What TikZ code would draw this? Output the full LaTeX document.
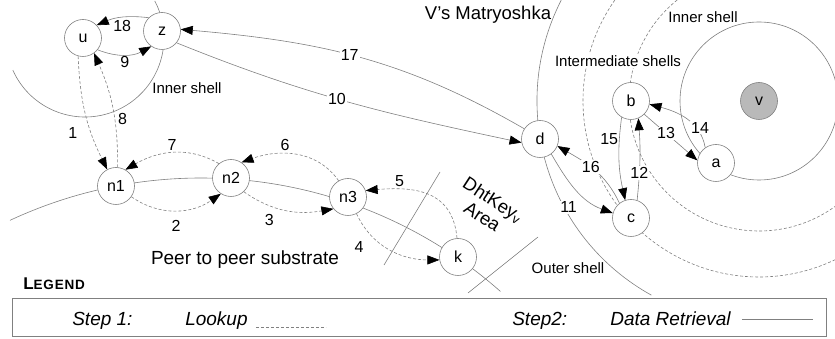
\documentclass[tikz,border=0pt]{standalone}
\usepackage{fontspec}
\setmainfont{Liberation Sans}
\usetikzlibrary{arrows.meta}

\begin{document}
\begin{tikzpicture}[x=1pt,y=1pt,line width=.6pt,
    >={Triangle[length=12pt,width=9pt,color=black]},
    peer/.style={circle,draw=gray,fill=white,minimum size=37pt,inner sep=0pt,
        font=\fontsize{16}{18}\selectfont},
    shell/.style={draw=gray},
    dshell/.style={draw=gray,dash pattern=on 3pt off 2pt},
    lookup/.style={->,draw=gray,dash pattern=on 3pt off 2pt},
    fetch/.style={->,draw=gray},
    num/.style={font=\fontsize{16}{18}\selectfont,inner sep=1pt},
    numcut/.style={num,fill=white},
    bigtext/.style={font=\fontsize{18.5}{20}\selectfont},
    smalltext/.style={font=\fontsize{15}{17}\selectfont},
    legtext/.style={font=\itshape\fontsize{19}{21}\selectfont,inner sep=0pt,anchor=base west}]

    \useasboundingbox (0,0) rectangle (835,339);

    % the shells
    \draw[shell] (85,301) ++(204:79) arc[start angle=204,end angle=388,radius=79pt];
    \draw[shell] (201,-291) ++(115:452) arc[start angle=115,end angle=48.5,radius=452pt];
    \draw[shell] (759,238) ++(153:222) arc[start angle=153,end angle=241,radius=222pt];
    \draw[dshell] (759,238) ++(145:176) arc[start angle=145,end angle=296,radius=176pt];
    \draw[dshell] (759,238) ++(129:130) arc[start angle=129,end angle=306,radius=130pt];
    \draw[shell] (759,238) circle[radius=79pt];
    \draw[shell] (440,167) -- (384,74);
    \draw[shell] (538,102) -- (468,46);

    % the peers
    \node[peer] (u) at (83,301) {u};
    \node[peer] (z) at (162,308) {z};
    \node[peer] (n1) at (116,153) {n1};
    \node[peer] (n2) at (231,161) {n2};
    \node[peer] (n3) at (348,142) {n3};
    \node[peer] (k) at (458,82) {k};
    \node[peer] (d) at (540,200) {d};
    \node[peer] (b) at (631,238) {b};
    \node[peer] (a) at (716,176) {a};
    \node[peer] (c) at (631,121) {c};
    \node[peer,fill=gray!55] (v) at (759,238) {v};

    % step 1: lookup
    \draw[lookup] (u.255) to[bend right=12] node[num,left=13pt,pos=.68]{1} (n1.118);
    \draw[lookup] (n1.85) to[bend right=12] node[num,right=2pt,pos=.4]{8} (u.306);
    \draw[lookup] (n1.-35) to[out=-35,in=215] node[num,below=9pt]{2} (n2.237);
    \draw[lookup] (n2.-47) to[out=-35,in=190] node[num,below=7pt,pos=.3]{3} (n3.219);
    \draw[lookup] (n3.-63) to[out=-65,in=180] node[num,left=21pt,pos=.45]{4} (k.189);
    \draw[lookup] (k.93) to[out=95,in=5,looseness=1.2] node[num,above=1pt,pos=.75]{5} (n3.20);
    \draw[lookup] (n3.120) to[out=125,in=20] node[num,above=2pt,pos=.6]{6} (n2.56);
    \draw[lookup] (n2.130) to[out=150,in=30] node[num,above=1pt]{7} (n1.60);

    % step 2: data retrieval
    \draw[fetch] (u.-39) to[bend right=25] node[num,below]{9} (z.235);
    \draw[fetch] (z.-39) to[out=-22,in=168] node[numcut,pos=.47]{10} (d.191);
    \draw[fetch] (d.-53) to[out=-60,in=160] node[numcut,pos=.5,xshift=-8pt,yshift=-17pt]{11} (c.165);
    \draw[fetch] (c.71) to[bend right=5] node[numcut,pos=.32]{12} (b.-67);
    \draw[fetch] (b.-45) to node[numcut,pos=.41]{13} (a.172);
    \draw[fetch] (a.125) to[out=100,in=-15] node[numcut,pos=.3,xshift=4pt]{14} (b.-10);
    \draw[fetch] (b.240) to[bend right=10] node[num,left=0pt,pos=.25]{15} (c.108);
    \draw[fetch] (c.128) to[out=115,in=-30] node[numcut,pos=.55]{16} (d.-22);
    \draw[fetch] (d.147) to[out=150,in=-5] node[numcut,pos=.53]{17} (z.5);
    \draw[fetch] (z.135) to[bend right=15] node[num,below=2pt]{18} (u.43);

    % the texts
    \node[bigtext] (title) at (488,324) {V’s Matryoshka};
    \node[smalltext] (inner) at (703,322) {Inner shell};
    \node[smalltext,fill=white,inner sep=1pt] (middle) at (618,278) {Intermediate shells};
    \node[smalltext] (outer) at (568,71) {Outer shell};
    \node[smalltext] (uinner) at (187,251) {Inner shell};
    \node[bigtext,font=\fontsize{19}{21}\selectfont] (substrate) at (245,79) {Peer to peer substrate};
    \node[bigtext,rotate=-33,align=center,inner sep=0pt] (area) at (488,131) {DhtKey\textsubscript{v}\\Area};

    % the legend
    \node[font=\bfseries\fontsize{17}{19}\selectfont\addfontfeatures{LetterSpace=6},
        anchor=west,inner sep=0pt] (legend) at (23,55) {L{\fontsize{13.5}{15}\selectfont EGEND}};
    \draw[shell] (12,3) rectangle (826,41);
    \node[legtext] (step1) at (72,13) {Step 1:};
    \node[legtext] (lookuptext) at (185,13) {Lookup};
    \node[legtext] (step2) at (512,13) {Step2:};
    \node[legtext] (retrieval) at (610,13) {Data Retrieval};
    \draw[dshell] ([xshift=8pt,yshift=-1pt]lookuptext.base east) -- ++(70,0);
    \draw[shell] ([xshift=11pt]retrieval.east) -- ++(71,0);
\end{tikzpicture}
\end{document}
